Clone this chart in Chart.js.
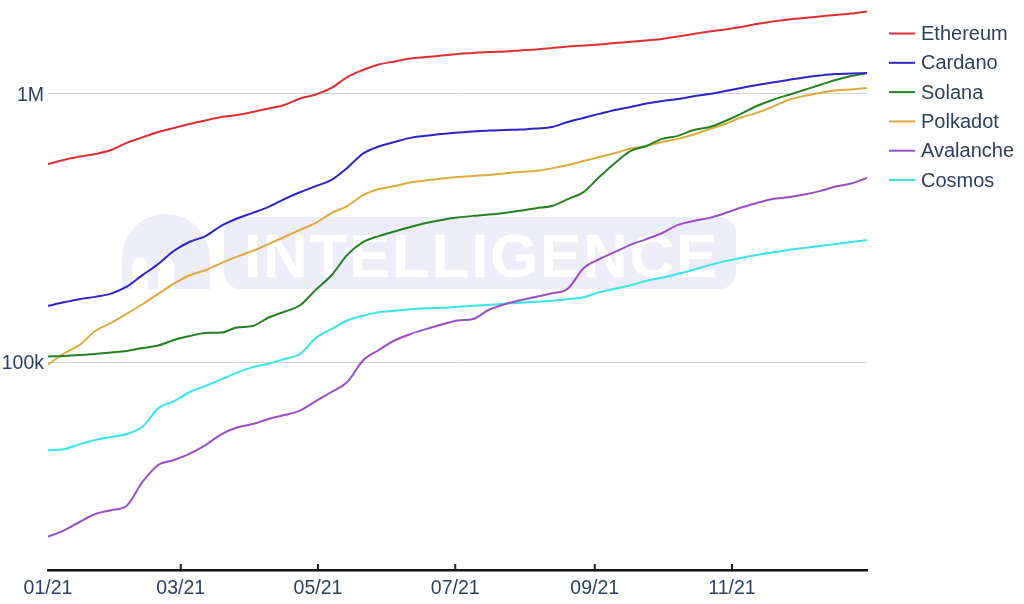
<!DOCTYPE html>
<html>
<head>
<meta charset="utf-8">
<script src="https://cdn.jsdelivr.net/npm/chart.js@4/dist/chart.umd.min.js"></script>
<style>
  body { margin: 0; background: #fff; }
  #wrap { width: 1024px; height: 604px; position: relative; }
</style>
</head>
<body>
<div id="wrap"><canvas id="chainChart"></canvas></div>
<script>
// dias desde 01/01/2021, um ponto por semana
const days = [0, 7, 14, 21, 28, 35, 42, 49, 56, 63, 70, 77, 84, 91, 98, 105, 112, 119, 126, 133, 140, 147, 154, 161, 168, 175, 182, 189, 196, 203, 210, 217, 224, 231, 238, 245, 252, 259, 266, 273, 280, 287, 294, 301, 308, 315, 322, 329, 336, 343, 350, 357, 364];

// valores em milhares
const ethereum = [548, 567, 584, 597, 618, 657, 689, 721, 747, 773, 797, 821, 835, 857, 883, 910, 962, 996, 1053, 1157, 1229, 1288, 1322, 1356, 1374, 1392, 1411, 1423, 1435, 1442, 1454, 1466, 1485, 1504, 1517, 1530, 1550, 1565, 1584, 1605, 1640, 1675, 1711, 1740, 1778, 1825, 1865, 1897, 1922, 1947, 1972, 1996, 2032];
const cardano = [162, 167, 171.5, 175, 180, 191, 211, 232, 260, 281, 295, 322, 343, 360, 379, 405.5, 430, 453, 478, 530, 599, 637, 662, 686, 698, 709, 718, 725, 731, 734, 737, 744, 753, 786, 814, 843, 872, 895, 921, 942, 958, 980, 1000, 1026, 1053, 1080, 1104, 1128, 1153, 1172, 1187, 1192, 1198];
const solana = [104.9, 105.3, 106.2, 107.1, 108.5, 109.9, 112.8, 115.2, 120.8, 125, 128.3, 128.8, 134.5, 136.2, 146.6, 154, 162.8, 186, 210.7, 251, 280, 295, 307, 319, 330, 339, 346, 351, 355, 360, 367, 375, 382, 405.5, 430.5, 490, 553, 613, 640, 680, 698, 734, 753, 793, 843, 902, 950, 992, 1035, 1080, 1128, 1167, 1198];
const polkadot = [97.8, 107.6, 115.7, 130.5, 139.9, 151.4, 164.3, 179.7, 196, 210.7, 220, 234, 247.3, 259.7, 275.4, 292.8, 311, 330.4, 359.6, 381.8, 419.5, 441.8, 453.3, 467.8, 476, 484.2, 490.4, 494.7, 499, 505.3, 512, 516.5, 527.8, 543, 562, 581.7, 602, 626, 640, 662.5, 680, 706, 740, 773, 817, 850, 895, 950, 983, 1009, 1031, 1040, 1053];
const avalanche = [22.3, 23.5, 25.3, 27.1, 28, 29.1, 35.7, 41.3, 43.1, 45.5, 49, 53.7, 57, 58.7, 61.3, 63.4, 65.9, 71.5, 77.3, 84.2, 101.3, 110.9, 120.3, 127.1, 132.7, 138, 142.9, 144.7, 156.7, 164.3, 170, 175.3, 180.4, 187.6, 223.8, 242, 257.5, 274.2, 287.5, 303, 324.7, 336, 345, 359.6, 377, 391.8, 405.5, 411.8, 421.4, 434.2, 451.6, 463.6, 486];
const cosmos = [46.9, 47.3, 49.3, 51.2, 52.5, 53.9, 57.3, 67.3, 71.5, 77.3, 81.4, 86.1, 91.3, 95.7, 98.6, 102.6, 107.1, 122.9, 132.7, 142.9, 148.9, 153.3, 155.3, 157.4, 158.7, 159.4, 160.8, 162.1, 163.5, 164.9, 166.4, 167.8, 169.3, 171.5, 174.4, 182, 187.6, 193.5, 201.1, 206.4, 213.4, 221, 229.9, 237.9, 244.2, 251, 256.4, 262, 266.5, 270.7, 275.4, 280.2, 285];

const xTickDays = [0, 59, 120, 181, 243, 304];
const xTickLabels = ['01/21', '03/21', '05/21', '07/21', '09/21', '11/21'];
const yTickValues = [100, 1000];
const yTickLabels = ['100k', '1M'];

const series = [
    { label: 'Ethereum', values: ethereum, color: '#dc2f33' },
    { label: 'Cardano', values: cardano, color: '#2a25c4' },
    { label: 'Solana', values: solana, color: '#23821f' },
    { label: 'Polkadot', values: polkadot, color: '#dcaa3c' },
    { label: 'Avalanche', values: avalanche, color: '#9a4ec6' },
    { label: 'Cosmos', values: cosmos, color: '#38e4e6' }
];

const TEXT_COLOR = '#2a3f5f';
const FONT = '"Liberation Sans", Arial, sans-serif';

// marca d'água por baixo das linhas
const watermarkPlugin = {
    id: 'watermark',
    beforeDatasetsDraw(chart) {
        const ctx = chart.ctx;
        ctx.save();
        ctx.fillStyle = '#ededf9';
        // logo
        ctx.beginPath();
        ctx.arc(166, 258, 44, Math.PI, 0);
        ctx.lineTo(210, 289);
        ctx.lineTo(122, 289);
        ctx.closePath();
        ctx.fill();
        ctx.fillStyle = '#ffffff';
        [[140, 258], [166, 258]].forEach(([x, y]) => {
            ctx.beginPath();
            ctx.moveTo(x - 8, 289);
            ctx.lineTo(x - 8, y + 8);
            ctx.arc(x, y + 8, 8, Math.PI, 0);
            ctx.lineTo(x + 8, 289);
            ctx.closePath();
            ctx.fill();
        });
        // caixa
        ctx.fillStyle = '#ededf9';
        ctx.beginPath();
        ctx.roundRect(224, 217, 512, 72, 16);
        ctx.fill();
        ctx.fillStyle = '#ffffff';
        ctx.font = 'bold 62px ' + FONT;
        ctx.letterSpacing = '1.7px';
        ctx.textBaseline = 'alphabetic';
        ctx.textAlign = 'left';
        ctx.fillText('INTELLIGENCE', 244, 277);
        ctx.restore();
    }
};

// marcas do eixo x viradas para dentro
const insideTicksPlugin = {
    id: 'insideTicks',
    afterDraw(chart) {
        const ctx = chart.ctx;
        const xScale = chart.scales.x;
        const bottom = chart.chartArea.bottom;
        ctx.save();
        ctx.strokeStyle = '#222';
        ctx.lineWidth = 2;
        xTickDays.slice(1).forEach(d => {
            const px = xScale.getPixelForValue(d);
            ctx.beginPath();
            ctx.moveTo(px, bottom - 6);
            ctx.lineTo(px, bottom);
            ctx.stroke();
        });
        ctx.restore();
    }
};

// legenda à direita
const sideLegendPlugin = {
    id: 'sideLegend',
    afterDraw(chart) {
        const ctx = chart.ctx;
        ctx.save();
        ctx.font = '20px ' + FONT;
        ctx.textBaseline = 'middle';
        ctx.textAlign = 'left';
        chart.data.datasets.forEach((ds, i) => {
            const y = 33.5 + i * 29.3;
            ctx.strokeStyle = ds.borderColor;
            ctx.lineWidth = 2;
            ctx.beginPath();
            ctx.moveTo(889, y);
            ctx.lineTo(915, y);
            ctx.stroke();
            ctx.fillStyle = TEXT_COLOR;
            ctx.fillText(ds.label, 921, y + 1);
        });
        ctx.restore();
    }
};

new Chart(document.getElementById('chainChart').getContext('2d'), {
    type: 'line',
    data: {
        datasets: series.map(s => ({
            label: s.label,
            data: s.values.map((v, i) => ({ x: days[i], y: v })),
            borderColor: s.color,
            backgroundColor: s.color,
            borderWidth: 2,
            pointRadius: 0,
            cubicInterpolationMode: 'monotone',
            fill: false
        }))
    },
    options: {
        responsive: true,
        maintainAspectRatio: false,
        animation: false,
        layout: { padding: { top: 5, right: 157, left: 0, bottom: 0 } },
        plugins: {
            legend: { display: false },
            tooltip: { enabled: false }
        },
        scales: {
            x: {
                type: 'linear',
                min: 0,
                max: 364,
                afterBuildTicks: scale => { scale.ticks = xTickDays.map(d => ({ value: d })); },
                afterFit: scale => {
                    scale.height = 34;
                    scale.paddingLeft = 0;
                    scale.paddingRight = 0;
                },
                ticks: {
                    autoSkip: false,
                    maxRotation: 0,
                    padding: 7,
                    color: TEXT_COLOR,
                    font: { size: 19.5, family: FONT },
                    callback: (val, idx) => xTickLabels[idx]
                },
                grid: { display: false, drawTicks: false },
                border: { display: true, color: '#111', width: 2.5 }
            },
            y: {
                type: 'logarithmic',
                min: 16.75,
                max: 2148,
                afterBuildTicks: scale => { scale.ticks = yTickValues.map(v => ({ value: v })); },
                afterFit: scale => {
                    scale.width = 48;
                    scale.paddingTop = 0;
                    scale.paddingBottom = 0;
                },
                ticks: {
                    padding: 4,
                    labelOffset: 2,
                    color: TEXT_COLOR,
                    font: { size: 19.5, family: FONT },
                    callback: (val, idx) => yTickLabels[idx]
                },
                grid: { color: '#d4d4d4', lineWidth: 1, drawTicks: false },
                border: { display: false }
            }
        }
    },
    plugins: [watermarkPlugin, insideTicksPlugin, sideLegendPlugin]
});
</script>
</body>
</html>
